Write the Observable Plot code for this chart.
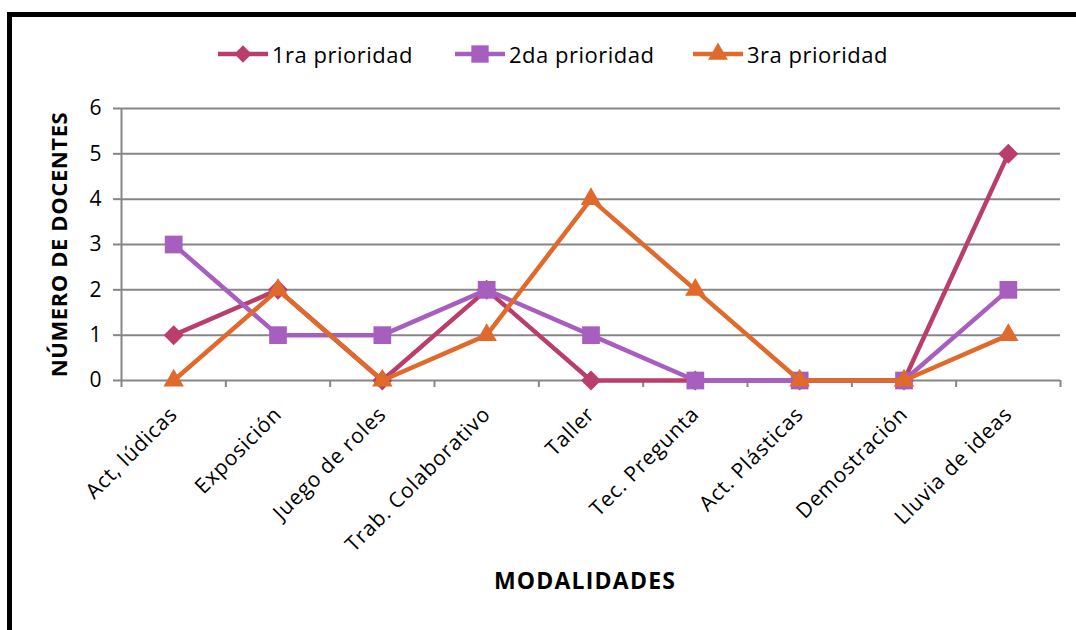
<!DOCTYPE html>
<html>
<head>
<meta charset="utf-8">
<script src="https://cdn.jsdelivr.net/npm/d3@7"></script>
<script src="https://cdn.jsdelivr.net/npm/@observablehq/plot@0.6"></script>
<style>
  html, body { margin: 0; padding: 0; background: #fff; }
  #wrap { position: relative; width: 1076px; height: 630px; overflow: hidden; font-family: "Open Sans", Lato, sans-serif; }
  #frame { position: absolute; left: 7px; top: 12px; width: 1200px; height: 800px; border: 5px solid #000; box-sizing: border-box; pointer-events: none; }
  #legend { position: absolute; left: 0; top: 0; width: 1076px; height: 80px; }
  .item { position: absolute; top: 39px; display: flex; align-items: center; font-size: 22px; letter-spacing: 0.5px; color: #000; }
  .item svg { margin-right: 4px; }
  #chart { position: absolute; left: 0; top: 80px; }
</style>
</head>
<body>
<div id="wrap">
  <div id="legend"></div>
  <div id="chart"></div>
  <div id="frame"></div>
</div>
<script>
const categories = ["Act, lúdicas", "Exposición", "Juego de roles", "Trab. Colaborativo", "Taller", "Tec. Pregunta", "Act. Plásticas", "Demostración", "Lluvia de ideas"];
const seriesNames = ["1ra prioridad", "2da prioridad", "3ra prioridad"];
const prioridad1 = [1, 2, 0, 2, 0, 0, 0, 0, 5];
const prioridad2 = [3, 1, 1, 2, 1, 0, 0, 0, 2];
const prioridad3 = [0, 2, 0, 1, 4, 2, 0, 0, 1];
const yTicks = [0, 1, 2, 3, 4, 5, 6];
const yTitle = "NÚMERO DE DOCENTES";
const xTitle = "MODALIDADES";

const colors = ["#B93E6B", "#A75FBF", "#E06A2C"];
const symbols = ["diamond2", "square", "triangle"];
const radii = [9, 10, 7.6];

const allSeries = [prioridad1, prioridad2, prioridad3];
const rows = [];
allSeries.forEach((vals, s) => vals.forEach((v, i) => rows.push({serie: seriesNames[s], idx: i, cat: categories[i], value: v})));

const idx = d3.range(categories.length);
const boundaries = d3.range(categories.length + 1).map(i => i - 0.5);

const svgMarks = [
  Plot.ruleY(yTicks, {stroke: "#868686", strokeWidth: 2}),
  Plot.ruleX([-0.5], {y1: 0, y2: 6, stroke: "#868686", strokeWidth: 2}),
  Plot.axisY({ticks: yTicks, tickSize: 8, tickPadding: 12, fontSize: 21, stroke: "#868686", strokeWidth: 2, color: "#000", label: null, tickFormat: d => String(d)}),
  Plot.axisX({ticks: boundaries, tickSize: 7, tickFormat: () => "", stroke: "#868686", strokeWidth: 2, label: null}),
  Plot.text(idx, {x: d => d, frameAnchor: "bottom", rotate: -45, textAnchor: "end", dx: 5, dy: 35, text: i => categories[i], fontSize: 21, fill: "#000"}),
  Plot.text([yTitle], {frameAnchor: "left", rotate: -90, textAnchor: "middle", dx: -62, text: d => d, fontSize: 22, fontWeight: "bold", fill: "#000"}),
  Plot.text([xTitle], {frameAnchor: "bottom", textAnchor: "middle", dx: -6, dy: 208, text: d => d, fontSize: 23, fontWeight: "bold", fill: "#000"})
];

seriesNames.forEach((name, s) => {
  const data = rows.filter(r => r.serie === name);
  svgMarks.push(Plot.line(data, {x: "idx", y: "value", stroke: colors[s], strokeWidth: 4.5, strokeLinejoin: "round"}));
  svgMarks.push(Plot.dot(data, {x: "idx", y: "value", symbol: () => symbols[s], fill: colors[s], stroke: "none", r: radii[s]}));
});

const chart = Plot.plot({
  width: 1076,
  height: 550,
  marginTop: 28,
  marginBottom: 250,
  marginLeft: 121,
  marginRight: 16,
  style: {fontFamily: "'Open Sans', Lato, sans-serif", background: "transparent", overflow: "visible"},
  x: {type: "linear", domain: [-0.5, categories.length - 0.5], axis: null},
  y: {type: "linear", domain: [0, 6], axis: null},
  symbol: {type: "identity"},
  marks: svgMarks
});
document.getElementById("chart").appendChild(chart);

// letter spacing for the text marks (x labels, y title, x title)
const textGroups = chart.querySelectorAll('g[aria-label="text"]');
const spacing = ["0.8px", "0.6px", "1.2px"];
textGroups.forEach((g, k) => { if (spacing[k]) g.style.letterSpacing = spacing[k]; });

// legend
const legendX = [218, 455, 693];
const legend = document.getElementById("legend");
seriesNames.forEach((name, s) => {
  const item = document.createElement("div");
  item.className = "item";
  item.style.left = legendX[s] + "px";
  const sym = symbols[s] === "diamond2" ? d3.symbol(d3.symbolDiamond2, 190) : symbols[s] === "square" ? d3.symbol(d3.symbolSquare, 300) : d3.symbol(d3.symbolTriangle, 170);
  item.innerHTML = `<svg width="50" height="24"><line x1="0" x2="50" y1="12" y2="12" stroke="${colors[s]}" stroke-width="4.5"/><path transform="translate(25,12)" d="${sym()}" fill="${colors[s]}"/></svg><span>${name}</span>`;
  legend.appendChild(item);
});
</script>
</body>
</html>
